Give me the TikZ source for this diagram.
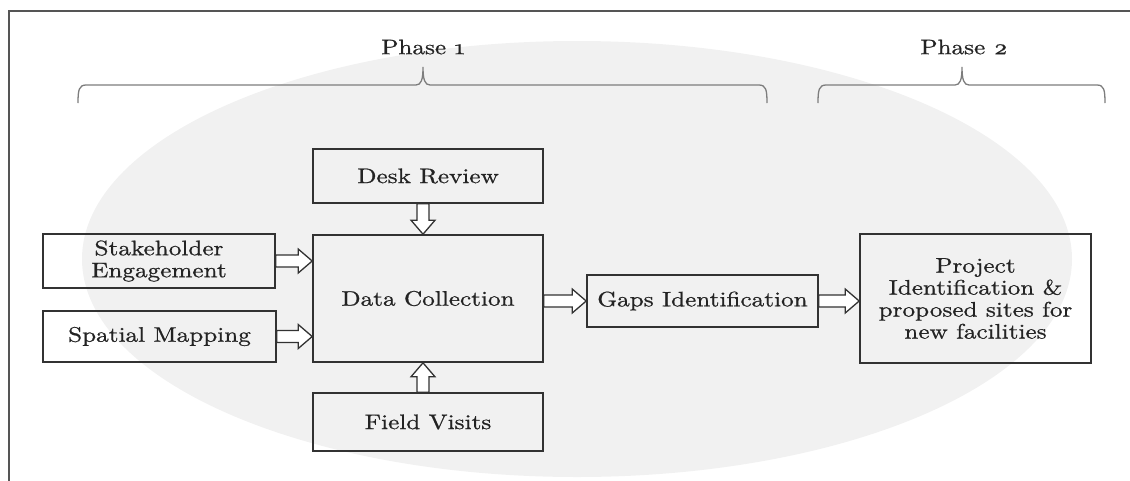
\documentclass[tikz,border=0pt]{standalone}
\usepackage{fontspec}
\setmainfont{lmroman10-regular.otf}[FakeStretch=1.2, FakeBold=0.8]
\usetikzlibrary{calc}
\definecolor{ellcol}{RGB}{241,241,241}
\definecolor{boxcol}{RGB}{50,50,50}
\definecolor{txtcol}{RGB}{35,35,35}
\definecolor{bracecol}{RGB}{125,125,125}
\definecolor{framecol}{RGB}{85,85,85}
\tikzset{
  box/.style={draw=boxcol, line width=1.6pt, inner sep=2pt, align=center,
    text=txtcol, font=\fontsize{21}{22}\selectfont},
  phase/.style={text=txtcol, font=\fontsize{21}{23}\selectfont, inner sep=0pt},
  bracepath/.style={draw=bracecol, line width=1.3pt},
  blockarrow/.style={draw=boxcol, line width=1.3pt, fill=white, line join=miter,
    to path={let \p1=(\tikztostart), \p2=(\tikztotarget),
      \n1={veclen(\x2-\x1,\y2-\y1)}, \n2={atan2(\y2-\y1,\x2-\x1)} in
      ([shift={(\p1)},rotate=\n2]0pt,6pt)
      -- ([shift={(\p1)},rotate=\n2]{\n1-14pt},6pt)
      -- ([shift={(\p1)},rotate=\n2]{\n1-14pt},12pt)
      -- (\p2)
      -- ([shift={(\p1)},rotate=\n2]{\n1-14pt},-12pt)
      -- ([shift={(\p1)},rotate=\n2]{\n1-14pt},-6pt)
      -- ([shift={(\p1)},rotate=\n2]0pt,-6pt) -- cycle}},
}
\begin{document}
\begin{tikzpicture}[x=1pt,y=-1pt]
\useasboundingbox (0,0) rectangle (1130,480);
% background ellipse
\fill[ellcol] (577,259) ellipse [x radius=495, y radius=218];
% frame
\draw[framecol, line width=1.6pt] (9,482) -- (9,11) -- (1132,11);
% braces
\draw[bracepath] (78,103) .. controls (78,90) and (79,85) .. (86,85)
  -- (416,85) .. controls (421,85) and (423,80) .. (423,67)
  .. controls (423,80) and (425,85) .. (430,85)
  -- (759,85) .. controls (766,85) and (767,90) .. (767,103);
\draw[bracepath] (818,103) .. controls (818,90) and (819,85) .. (826,85)
  -- (955,85) .. controls (960,85) and (962,80) .. (962,67)
  .. controls (962,80) and (964,85) .. (969,85)
  -- (1097,85) .. controls (1104,85) and (1105,90) .. (1105,103);
\node[phase] (ph1) at (423,47) {Phase \oldstylenums{1}};
\node[phase] (ph2) at (964,47) {Phase \oldstylenums{2}};
% boxes
\node[box, minimum width=230, minimum height=54] (desk) at (428,176) {Desk Review};
\node[box, minimum width=232, minimum height=54] (stake) at (159,261) {Stakeholder\\Engagement};
\node[box, minimum width=233, minimum height=51] (spatial) at (159.5,336.5) {Spatial Mapping};
\node[box, minimum width=230, minimum height=127] (data) at (428,298.5) {Data Collection};
\node[box, minimum width=230, minimum height=58] (field) at (428,422) {Field Visits};
\node[box, minimum width=231, minimum height=52] (gaps) at (702.5,301) {Gaps Identification};
\node[box, minimum width=231, minimum height=129] (proj) at (975.5,298.5) {Project\\Identification \&\\proposed sites for\\new facilities};
% arrows
\draw[blockarrow] ([xshift=-5pt]desk.south) to ([xshift=-5pt]data.north);
\draw[blockarrow] ([xshift=-5pt]field.north) to ([xshift=-5pt]data.south);
\draw[blockarrow] (stake.east) to (stake.east -| data.west);
\draw[blockarrow] (spatial.east) to (spatial.east -| data.west);
\draw[blockarrow] (gaps.west -| data.east) to (gaps.west);
\draw[blockarrow] (gaps.east) to (gaps.east -| proj.west);
\end{tikzpicture}
\end{document}
